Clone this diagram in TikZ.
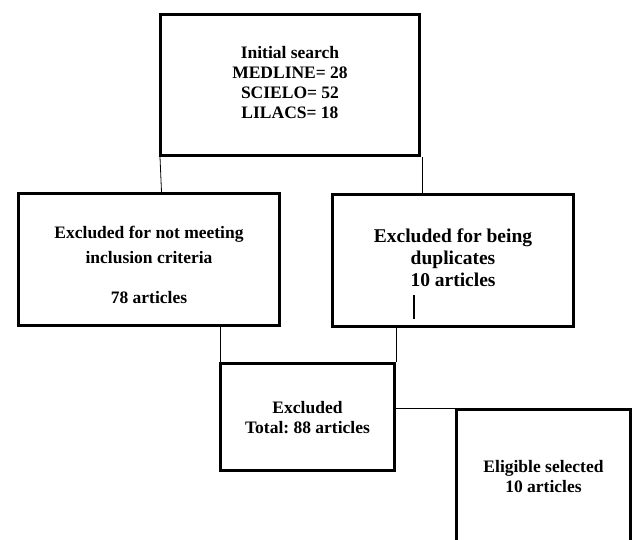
\documentclass[tikz,border=0pt]{standalone}
\usepackage{fontspec}
\setmainfont{Liberation Serif}
\usetikzlibrary{calc,positioning}
\frenchspacing

\begin{document}
\begin{tikzpicture}[x=1pt,y=-1pt]
\tikzstyle{blk}=[rectangle, draw, line width=3pt, inner sep=0pt]%
\tikzstyle{txt}=[align=center, inner sep=0pt, font=\bfseries\fontsize{17.5}{20}\selectfont]
\tikzstyle{conn}=[line width=0.8pt]
\useasboundingbox (0,0) rectangle (632,540);
\clip (0,0) rectangle (632,540);
% boxes
\node[blk, minimum width=259, minimum height=141] (search) at (290,85) {};
\node[blk, minimum width=261, minimum height=132] (notmet) at (149,259.5) {};
\node[blk, minimum width=241, minimum height=132] (dup) at (453,260.5) {};
\node[blk, minimum width=174, minimum height=107] (excl) at (307.5,417) {};
\node[blk, minimum width=174, minimum height=135] (elig) at (543.5,477) {};
% texts
\node[txt] (search-t) at ($(search)+(0,-2)$) {Initial search\\MEDLINE= 28\\SCIELO= 52\\LILACS= 18};
\node[txt, font=\bfseries\fontsize{17.5}{25}\selectfont] (notmet-t) at ($(notmet)+(0,5)$) {Excluded for not meeting\\inclusion criteria\\[15pt]78 articles};
\node[txt, font=\bfseries\fontsize{19.5}{22}\selectfont] (dup-t) at ($(dup)+(0,-3)$) {Excluded for being\\duplicates\\10 articles};
\node[txt] (excl-t) at ($(excl)+(0,1)$) {Excluded\\Total: 88 articles};
\node[txt] (elig-t) at (elig) {Eligible selected\\10 articles};
% cursor mark
\draw[line width=2pt] (413.5,295) -- (413.5,319);
% connectors
\draw[conn] ($(search.south west)+(1,0)$) -- ($(notmet.north west)+(144.5,0)$);
\draw[conn] ($(search.south east)+(1,0)$) -- ($(dup.north west)+(91,0)$);
\draw[conn] ([xshift=1.5pt]excl.north west |- notmet.south) -- ([xshift=1.5pt]excl.north west);
\draw[conn] (excl.north east |- dup.south) -- (excl.north east);
\draw[conn] (excl.east |- elig.north west) -- (elig.north west);
\end{tikzpicture}
\end{document}
